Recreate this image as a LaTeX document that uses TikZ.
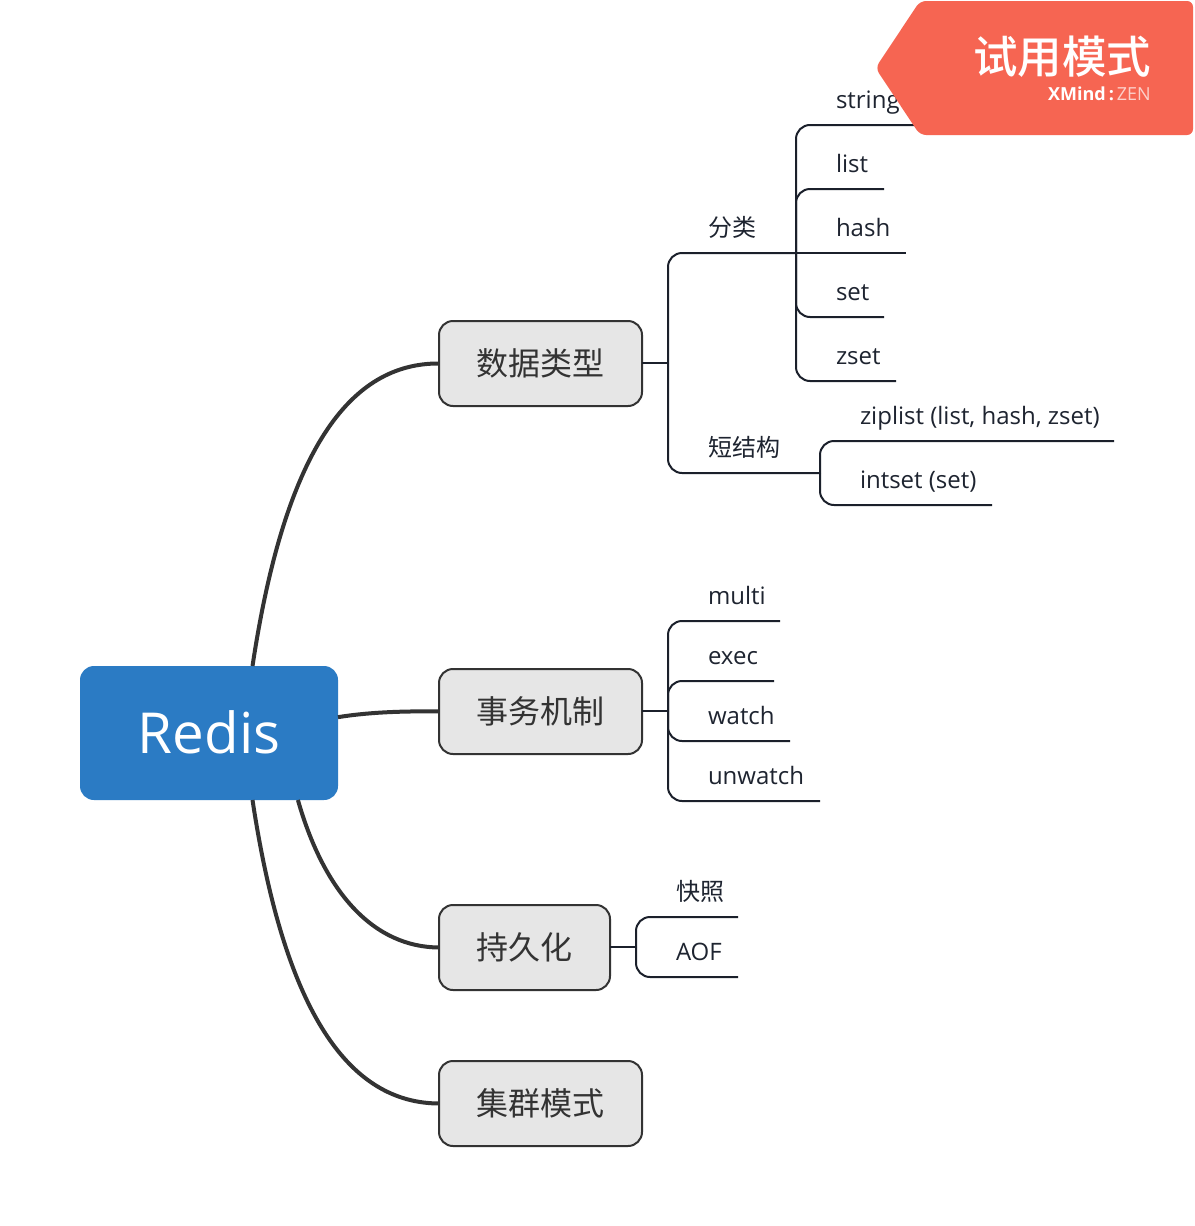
\documentclass[tikz,border=0pt]{standalone}
\usepackage{fontspec}
\setmainfont{Open Sans}
\newfontfamily\cjk{Noto Sans CJK SC}
\newfontfamily\cjkbadge{Noto Sans CJK SC Medium}
\definecolor{rootblue}{HTML}{2B7BC4}
\definecolor{boxgrey}{HTML}{E6E6E6}
\definecolor{linedark}{HTML}{333333}
\definecolor{leafink}{HTML}{1E2430}
\definecolor{badge}{HTML}{F66552}
\tikzset{
  rootbox/.style={fill=rootblue,rounded corners=14pt,minimum width=258pt,minimum height=134pt,inner sep=0pt,outer sep=0pt,text=white,font=\fontsize{56.5}{64}\selectfont},
  topicbox/.style={draw=linedark,line width=2pt,fill=boxgrey,rounded corners=14pt,minimum height=85pt,inner sep=0pt,outer sep=0pt,text=linedark,font=\cjk\fontsize{32}{38}\selectfont},
  leaf/.style={anchor=base west,inner sep=0pt,outer sep=0pt,text=leafink,font=\fontsize{24}{28}\selectfont},
  cleaf/.style={leaf,font=\cjk\fontsize{24}{28}\selectfont},
  trunk/.style={draw=linedark,line width=4pt},
  branch/.style={draw=leafink!90!black,line width=2pt,rounded corners=14pt},
  stub/.style={draw=leafink!90!black,line width=2pt}
}
\begin{document}
\begin{tikzpicture}[x=1pt,y=-1pt]
\useasboundingbox (0,0) rectangle (1194,1226);
\fill[white] (0,0) rectangle (1194,1226);

% central topic and main topics
\node[rootbox,text depth=0pt] (root) at (209,733) {\raisebox{2pt}{Redis}};
\node[topicbox,minimum width=203pt] (data) at (540.5,363.5) {数据类型};
\node[topicbox,minimum width=203pt] (tx) at (540.5,711.5) {事务机制};
\node[topicbox,minimum width=171pt] (persist) at (524.5,947.5) {持久化};
\node[topicbox,minimum width=203pt] (cluster) at (540.5,1103.5) {集群模式};

% curved trunks
\draw[trunk] (root.57.3) .. controls (285,450) and (350,363) .. (data.west);
\draw[trunk] (root.7.07) .. controls (370,712) and (405,711) .. (tx.west);
\draw[trunk] (root.-37) .. controls (325,895) and (375,947) .. (persist.west);
\draw[trunk] (root.-57.3) .. controls (285,1015) and (350,1103) .. (cluster.west);

% hubs
\coordinate (hubdata) at (668,363);
\coordinate (hubkind) at (796,253);
\coordinate (hubshort) at (820,473);
\coordinate (hubtx) at (668,711);
\coordinate (hubpers) at (636,947);

% label nodes
\node[cleaf] (kind) at (708,236) {分类};
\node[cleaf] (short) at (708,456) {短结构};
\node[leaf] (string) at (836,108) {string};
\node[leaf] (list) at (836,172) {list};
\node[leaf] (hash) at (836,236) {hash};
\node[leaf] (set) at (836,300) {set};
\node[leaf] (zset) at (836,364) {zset};
\node[leaf] (ziplist) at (860,424) {ziplist (list, hash, zset)};
\node[leaf] (intset) at (860,488) {intset (set)};
\node[leaf] (multi) at (708,604) {multi};
\node[leaf] (exec) at (708,664) {exec};
\node[leaf] (watch) at (708,724) {watch};
\node[leaf] (unwatch) at (708,784) {unwatch};
\node[cleaf] (snap) at (676,900) {快照};
\node[leaf] (aof) at (676,960) {AOF};

% underline ends
\coordinate (ekind) at (796,253);
\coordinate (eshort) at (820,473);
\coordinate (estring) at (918,125);
\coordinate (elist) at (884,189);
\coordinate (ehash) at (906,253);
\coordinate (eset) at (884,317);
\coordinate (ezset) at (896,381);
\coordinate (eziplist) at (1114,441);
\coordinate (eintset) at (992,505);
\coordinate (emulti) at (780,621);
\coordinate (eexec) at (774,681);
\coordinate (ewatch) at (790,741);
\coordinate (eunwatch) at (820,801);
\coordinate (esnap) at (738,917);
\coordinate (eaof) at (738,977);

% connectors
\draw[stub] (data.east |- hubdata) -- (hubdata);
\draw[stub] (tx.east |- hubtx) -- (hubtx);
\draw[stub] (persist.east |- hubpers) -- (hubpers);
\draw[branch] (hubdata) |- (ekind);
\draw[branch] (hubdata) |- (eshort);
\draw[branch] (hubkind) |- (estring);
\draw[branch] (hubkind) |- (elist);
\draw[stub] (hubkind) -- (ehash);
\draw[branch] (hubkind) |- (eset);
\draw[branch] (hubkind) |- (ezset);
\draw[branch] (hubshort) |- (eziplist);
\draw[branch] (hubshort) |- (eintset);
\draw[branch] (hubtx) |- (emulti);
\draw[branch] (hubtx) |- (eexec);
\draw[branch] (hubtx) |- (ewatch);
\draw[branch] (hubtx) |- (eunwatch);
\draw[branch] (hubpers) |- (esnap);
\draw[branch] (hubpers) |- (eaof);

% trial badge
\fill[badge,rounded corners=6pt] (920,1) -- (1193,1) -- (1193,135) -- (920,135) -- (875.5,68) -- cycle;
\node[anchor=base east,inner sep=0pt,text=white,font=\cjkbadge\fontsize{44.5}{50}\selectfont] (trial) at (1151.5,73) {试用模式};
\node[anchor=base east,inner sep=0pt,text=white,font=\fontsize{18}{20}\selectfont] (brand) at (1151,100.5) {\textbf{XMind\,:\,}\textcolor{white!70!badge}{ZEN}};
\end{tikzpicture}
\end{document}
